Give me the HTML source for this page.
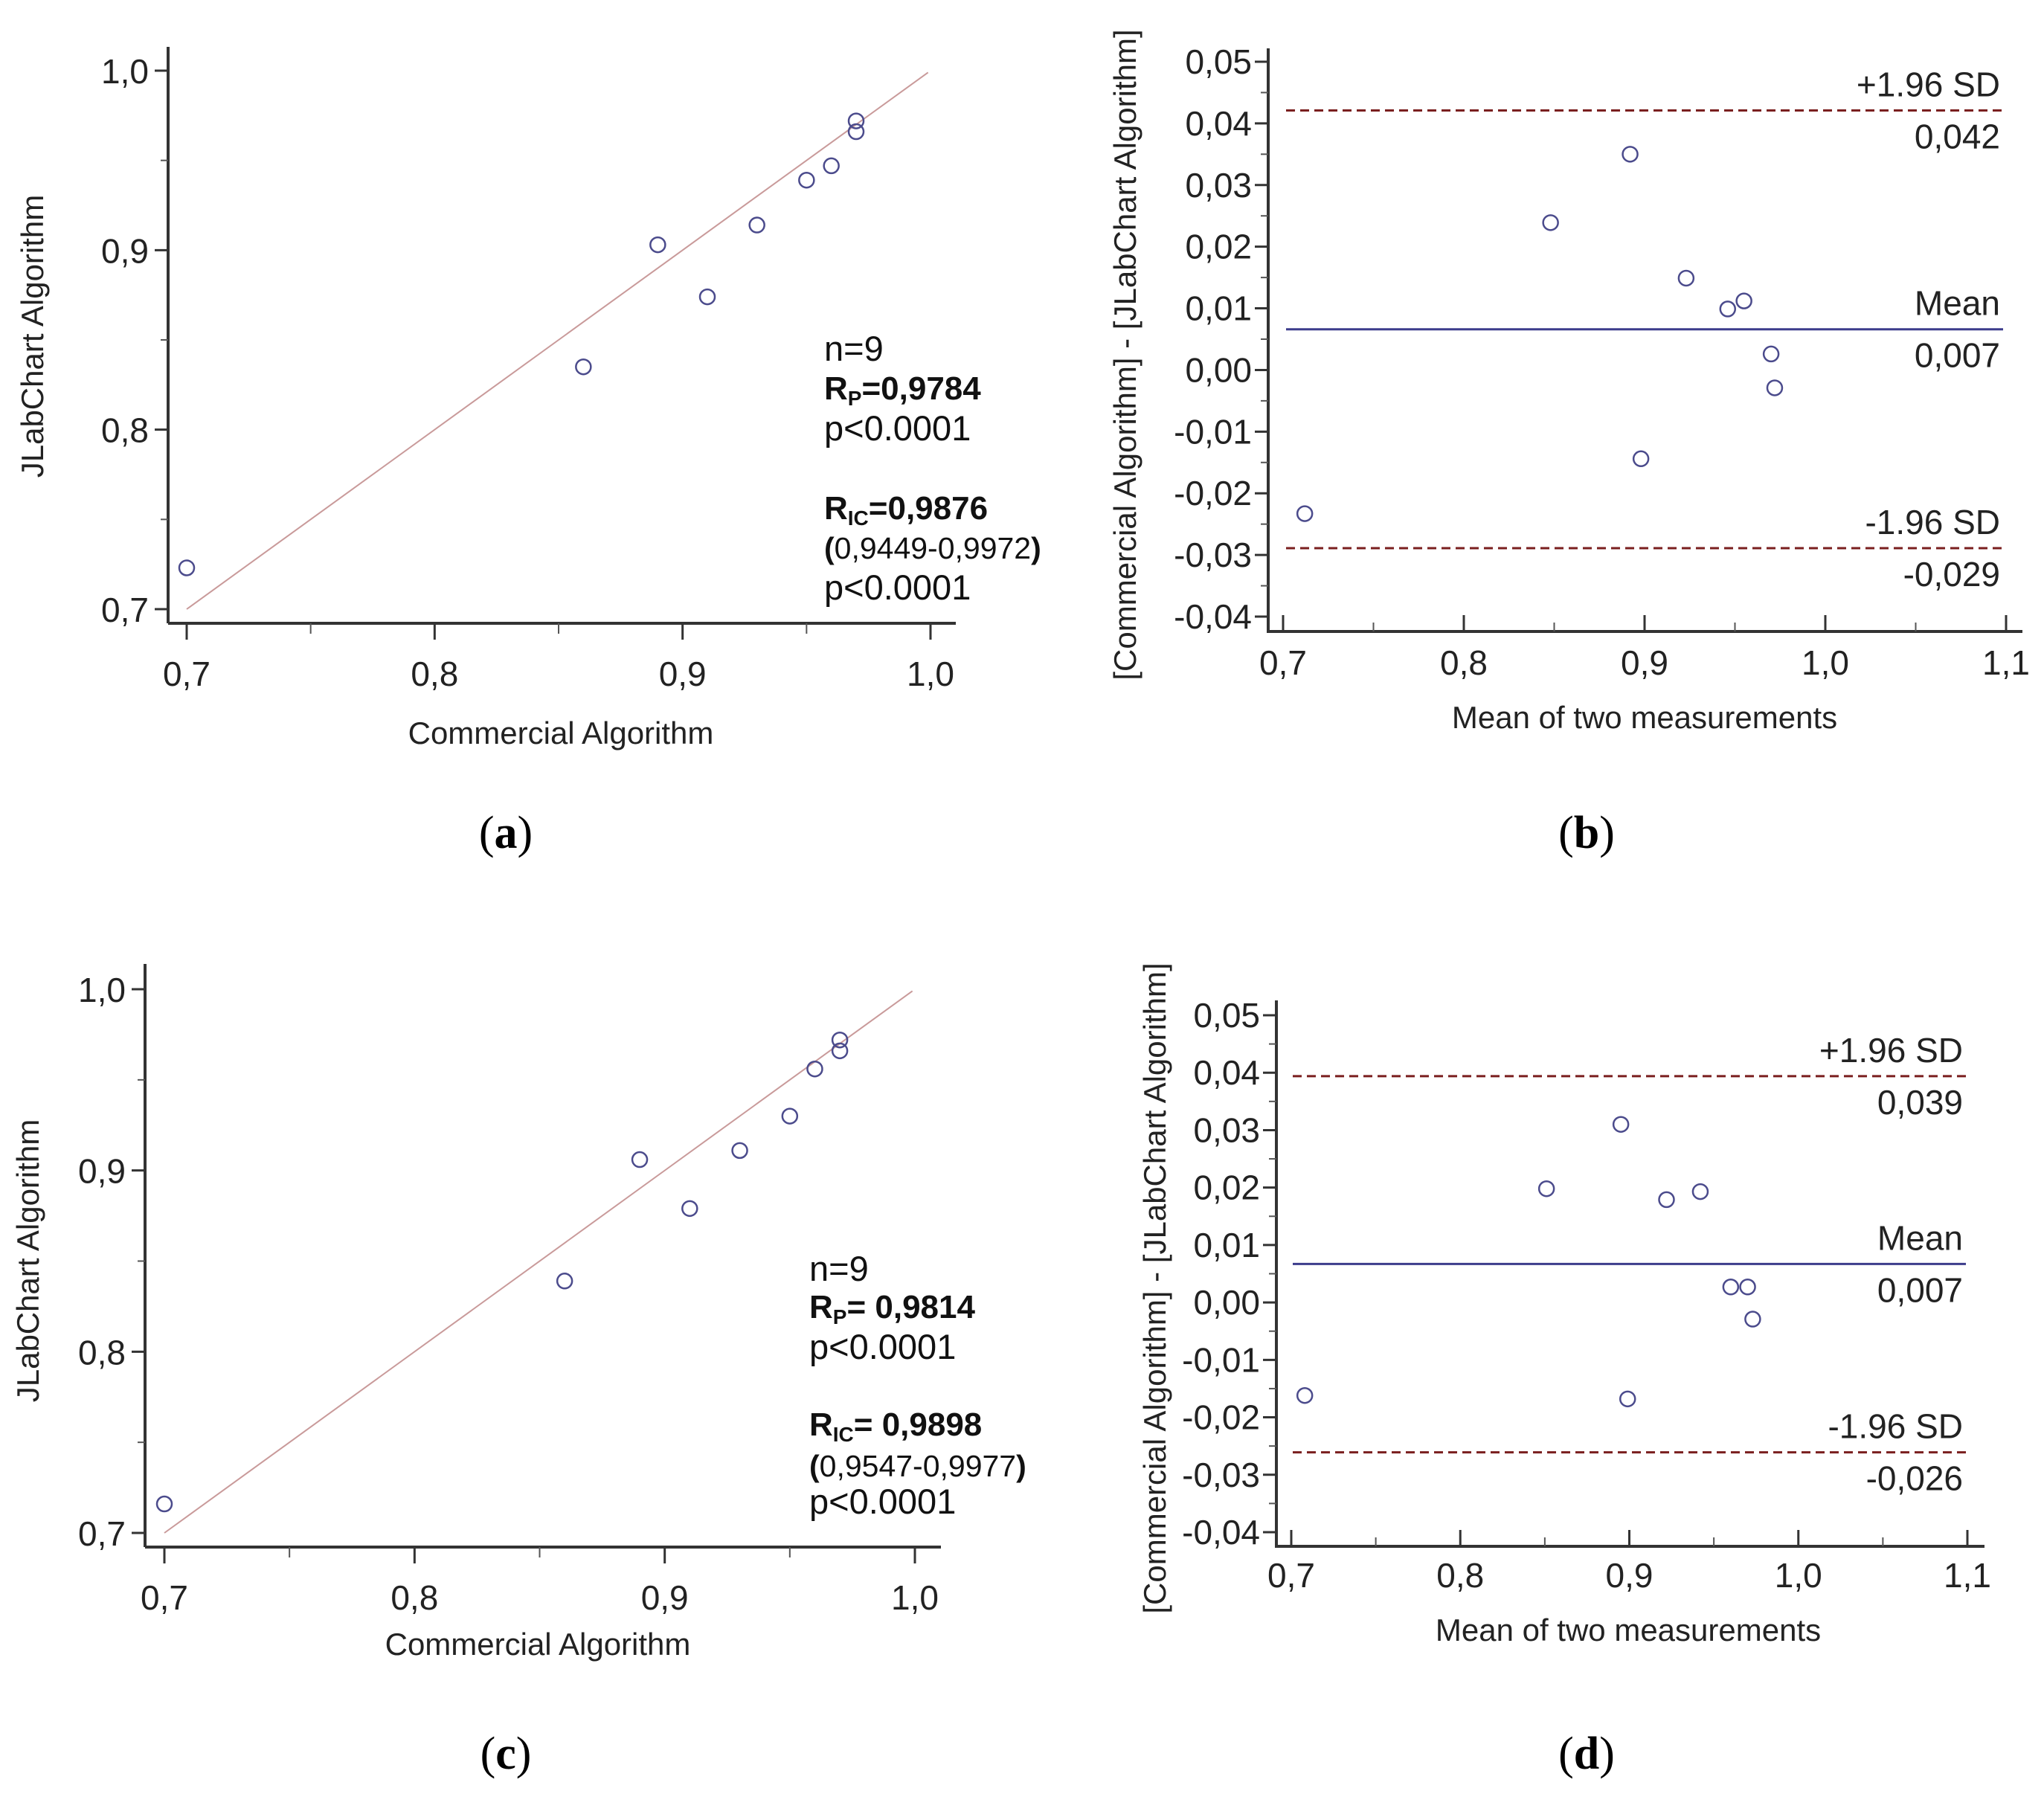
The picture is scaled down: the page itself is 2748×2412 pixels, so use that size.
<!DOCTYPE html>
<html><head><meta charset="utf-8">
<style>
html,body{margin:0;padding:0;background:#fff;}
svg{display:block;font-family:"Liberation Sans",Arial,sans-serif;}
.tk{font-size:46px;fill:#222;}
.ttl{font-size:42px;fill:#222;}
.ann{font-size:47px;fill:#111;}
.annb{font-size:44px;font-weight:bold;fill:#111;}
.cap{font-family:"Liberation Serif",serif;font-size:62px;fill:#000;}
</style></head>
<body>
<svg id="fig" width="2748" height="2412" viewBox="0 0 2748 2412" xmlns="http://www.w3.org/2000/svg"></svg>
<script>
// Panel (a) data
const aX = [0.70, 0.86, 0.89, 0.91, 0.93, 0.95, 0.96, 0.97, 0.97];
const aY = [0.723, 0.835, 0.903, 0.874, 0.914, 0.939, 0.947, 0.972, 0.966];
// Panel (c) data
const cX = [0.70, 0.86, 0.89, 0.91, 0.93, 0.95, 0.96, 0.97, 0.97];
const cY = [0.716, 0.839, 0.906, 0.879, 0.911, 0.930, 0.956, 0.972, 0.966];
// Panel (b) data
const bX = [0.712, 0.848, 0.892, 0.898, 0.923, 0.946, 0.955, 0.970, 0.972];
const bY = [-0.0233, 0.0239, 0.0350, -0.0144, 0.0149, 0.0099, 0.0112, 0.0026, -0.0029];
const bLines = [0.0421, 0.0066, -0.0289];
const bLineLabels = [["+1.96 SD","0,042"],["Mean","0,007"],["-1.96 SD","-0,029"]];
// Panel (d) data
const dX = [0.708, 0.851, 0.895, 0.899, 0.922, 0.942, 0.960, 0.970, 0.973];
const dY = [-0.0162, 0.0198, 0.0310, -0.0168, 0.0179, 0.0193, 0.0027, 0.0027, -0.0029];
const dLines = [0.0394, 0.0067, -0.0261];
const dLineLabels = [["+1.96 SD","0,039"],["Mean","0,007"],["-1.96 SD","-0,026"]];
// ticks
const corrTicks = [0.7, 0.8, 0.9, 1.0];
const corrTickLabels = ["0,7","0,8","0,9","1,0"];
const baXTicks = [0.7, 0.8, 0.9, 1.0, 1.1];
const baXTickLabels = ["0,7","0,8","0,9","1,0","1,1"];
const baYTicks = [0.05,0.04,0.03,0.02,0.01,0,-0.01,-0.02,-0.03,-0.04];
const baYTickLabels = ["0,05","0,04","0,03","0,02","0,01","0,00","-0,01","-0,02","-0,03","-0,04"];

const NS = "http://www.w3.org/2000/svg";
const svg = document.getElementById('fig');
function mk(tag, attrs, parent, text){
  const e = document.createElementNS(NS, tag);
  for (const k in attrs) e.setAttribute(k, attrs[k]);
  if (text !== undefined) e.textContent = text;
  (parent || svg).appendChild(e);
  return e;
}
function lin(d0,d1,r0,r1){ return v => r0 + (v-d0)/(d1-d0)*(r1-r0); }

function corrPanel(name, cfg, xs, ys, ann){
  const g = mk('g', {});
  
  
  const sx = lin(0.7, 1.0, cfg.x07, cfg.x10);
  const sy = lin(0.7, 1.0, cfg.y07, cfg.y10);
  const ya = mk('line', {x1:cfg.ax, y1:cfg.top, x2:cfg.ax, y2:cfg.axY, stroke:'#333','stroke-width':4}, g);
  
  
  const xa = mk('line', {x1:cfg.ax, y1:cfg.axY, x2:cfg.right, y2:cfg.axY, stroke:'#333','stroke-width':4}, g);
  
  
  corrTicks.forEach((t,i)=>{
    const y = sy(t);
    mk('line',{x1:cfg.ax-18,y1:y,x2:cfg.ax,y2:y,stroke:'#333','stroke-width':3},g);
    const tl = mk('text',{x:cfg.ax-26,y:y+17,'text-anchor':'end','class':'tk'},g,corrTickLabels[i]);
    
    
    const x = sx(t);
    mk('line',{x1:x,y1:cfg.axY,x2:x,y2:cfg.axY+22,stroke:'#333','stroke-width':3},g);
    const xl = mk('text',{x:x,y:cfg.xlab,'text-anchor':'middle','class':'tk'},g,corrTickLabels[i]);
    
    
    if (i<3){
      const ym = sy(t+0.05), xm = sx(t+0.05);
      mk('line',{x1:cfg.ax-10,y1:ym,x2:cfg.ax,y2:ym,stroke:'#555','stroke-width':2},g);
      mk('line',{x1:xm,y1:cfg.axY,x2:xm,y2:cfg.axY+14,stroke:'#555','stroke-width':2},g);
    }
  });
  const rl = mk('line',{x1:sx(0.7),y1:sy(0.7),x2:sx(0.999),y2:sy(0.999),stroke:'#c99a9a','stroke-width':2},g);
  
  
  xs.forEach((xv,i)=>{
    const c = mk('circle',{cx:sx(xv),cy:sy(ys[i]),r:10,fill:'none',stroke:'#4b4b8c','stroke-width':2.5},g);
    
    
  });
  const xt = mk('text',{x:cfg.xtX,y:cfg.xtY,'text-anchor':'middle','class':'ttl'},g,'Commercial Algorithm');
  
  
  const yt = mk('text',{x:0,y:0,'text-anchor':'middle','class':'ttl',transform:`translate(${cfg.ytX},${cfg.ytY}) rotate(-90)`},g,'JLabChart Algorithm');
  
  
  const ax = cfg.annX, b = cfg.annB;
  const t1 = mk('text',{x:ax,y:b[0],'class':'ann'},g,'n=9');
   
  const t2 = mk('text',{x:ax,y:b[1],'class':'annb'},g);
   
  mk('tspan',{},t2,'R');
  mk('tspan',{'font-size':28,dy:8},t2,'P');
  mk('tspan',{dy:-8},t2,ann[0]);
  const t3 = mk('text',{x:ax,y:b[2],'class':'ann'},g,'p<0.0001');
   
  const t4 = mk('text',{x:ax,y:b[3],'class':'annb'},g);
   
  mk('tspan',{},t4,'R');
  mk('tspan',{'font-size':28,dy:8},t4,'IC');
  mk('tspan',{dy:-8},t4,ann[1]);
  const t5 = mk('text',{x:ax,y:b[4],'font-size':41,fill:'#111'},g);
   
  mk('tspan',{'font-weight':'bold'},t5,'(');
  mk('tspan',{},t5,ann[2]);
  mk('tspan',{'font-weight':'bold'},t5,')');
  const t6 = mk('text',{x:ax,y:b[5],'class':'ann'},g,'p<0.0001');
   
}

function baPanel(name, cfg, xs, ys, lines, labels){
  const g = mk('g', {});
  
  
  const sx = lin(0.7, 1.1, cfg.x07, cfg.x11);
  const sy = lin(0.05, -0.04, cfg.y05, cfg.ym04);
  const ya = mk('line',{x1:cfg.ax,y1:cfg.top,x2:cfg.ax,y2:cfg.axY,stroke:'#333','stroke-width':4},g);
   
  const xa = mk('line',{x1:cfg.ax-2,y1:cfg.axY,x2:cfg.right,y2:cfg.axY,stroke:'#333','stroke-width':4},g);
   
  baYTicks.forEach((t,i)=>{
    const y = sy(t);
    mk('line',{x1:cfg.ax-18,y1:y,x2:cfg.ax,y2:y,stroke:'#333','stroke-width':3},g);
    const tl = mk('text',{x:cfg.ax-22,y:y+16,'text-anchor':'end','class':'tk'},g,baYTickLabels[i]);
     
    if (i<baYTicks.length-1){
      const ym = sy(t-0.005);
      mk('line',{x1:cfg.ax-10,y1:ym,x2:cfg.ax,y2:ym,stroke:'#555','stroke-width':2},g);
    }
  });
  baXTicks.forEach((t,i)=>{
    const x = sx(t);
    mk('line',{x1:x,y1:cfg.axY-22,x2:x,y2:cfg.axY,stroke:'#333','stroke-width':3},g);
    const xl = mk('text',{x:x,y:cfg.xlab,'text-anchor':'middle','class':'tk'},g,baXTickLabels[i]);
     
    if (i<baXTicks.length-1){
      const xm = sx(t+0.05);
      mk('line',{x1:xm,y1:cfg.axY-12,x2:xm,y2:cfg.axY,stroke:'#555','stroke-width':2},g);
    }
  });
  lines.forEach((v,i)=>{
    const y = sy(v);
    const isMean = i===1;
    const l = mk('line',{x1:cfg.lx0,y1:y,x2:cfg.lx1,y2:y,stroke:isMean?'#3c3c8c':'#7a1f1f','stroke-width':3,'stroke-dasharray':isMean?'none':'12 7'},g);
    
    
    const a = mk('text',{x:cfg.lx1-4,y:y-19,'text-anchor':'end','class':'tk'},g,labels[i][0]);
     
    const b2 = mk('text',{x:cfg.lx1-4,y:y+51,'text-anchor':'end','class':'tk'},g,labels[i][1]);
     
  });
  xs.forEach((xv,i)=>{
    const c = mk('circle',{cx:sx(xv),cy:sy(ys[i]),r:10,fill:'none',stroke:'#4b4b8c','stroke-width':2.5},g);
     
  });
  const xt = mk('text',{x:cfg.xtX,y:cfg.xtY,'text-anchor':'middle','class':'ttl'},g,'Mean of two measurements');
   
  const yt = mk('text',{x:0,y:0,'text-anchor':'middle','class':'ttl',transform:`translate(${cfg.ytX},${cfg.ytY}) rotate(-90)`},g,'[Commercial Algorithm] - [JLabChart Algorithm]');
   
}

function caption(letter, x, y){
  const t = mk('text',{x:x,y:y,'text-anchor':'middle','class':'cap'});
  
  
  mk('tspan',{},t,'(');
  mk('tspan',{'font-weight':'bold'},t,letter);
  mk('tspan',{},t,')');
}

corrPanel('panel-a', {ax:226,top:63,axY:838,right:1285,x07:251,x10:1251,y07:819,y10:95,xlab:922,xtX:754,xtY:1000,ytX:58,ytY:452,annX:1108,annB:[485,537,592,698,751,806]},
  aX, aY, ['=0,9784','=0,9876','0,9449-0,9972']);
corrPanel('panel-c', {ax:195,top:1296,axY:2080,right:1265,x07:221,x10:1230,y07:2061,y10:1330,xlab:2164,xtX:723,xtY:2225,ytX:52,ytY:1695,annX:1088,annB:[1722,1772,1827,1930,1985,2035]},
  cX, cY, ['= 0,9814','= 0,9898','0,9547-0,9977']);
baPanel('panel-b', {ax:1705,top:65,axY:849,right:2719,x07:1725,x11:2697,y05:83,ym04:829,lx0:1729,lx1:2693,xlab:907,xtX:2211,xtY:979,ytX:1527,ytY:477},
  bX, bY, bLines, bLineLabels);
baPanel('panel-d', {ax:1716,top:1345,axY:2079,right:2668,x07:1736,x11:2645,y05:1365,ym04:2060,lx0:1738,lx1:2643,xlab:2134,xtX:2189,xtY:2206,ytX:1567,ytY:1732},
  dX, dY, dLines, dLineLabels);
caption('a', 680, 1140);
caption('b', 2133, 1140);
caption('c', 680, 2378);
caption('d', 2133, 2378);
</script>
</body></html>
